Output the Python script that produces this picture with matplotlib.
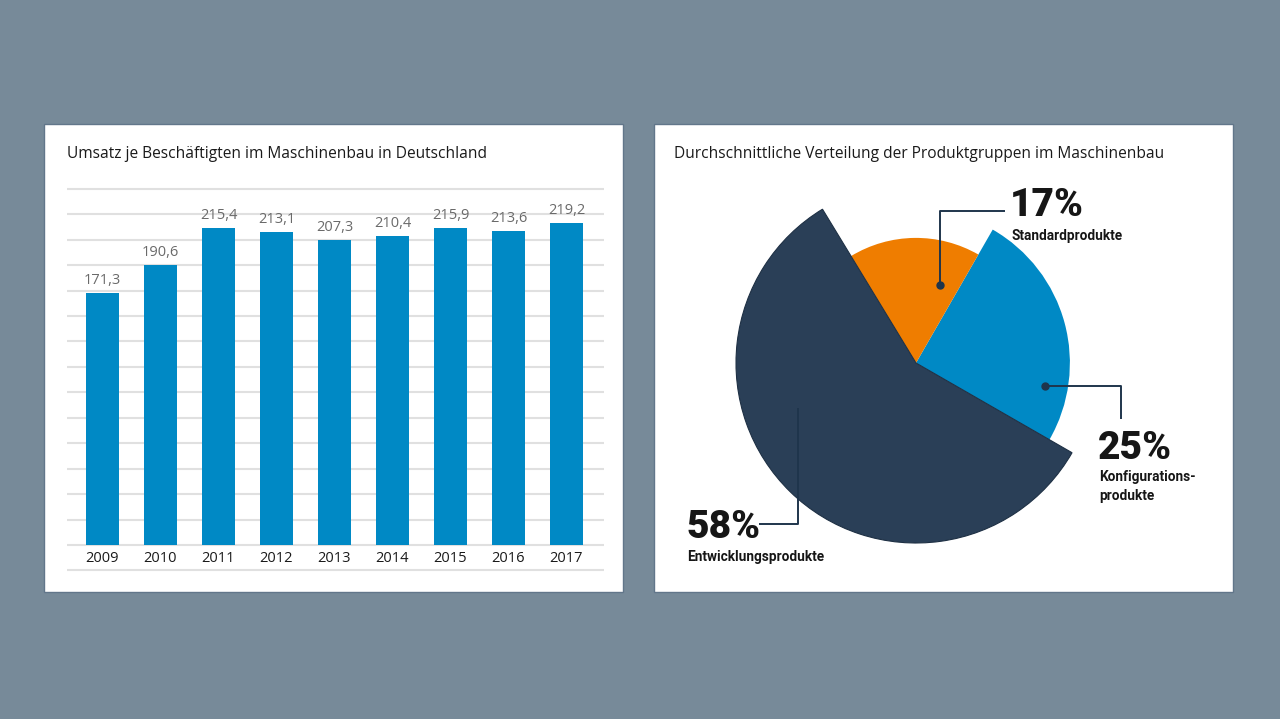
import numpy as np
import matplotlib
matplotlib.use("Agg")
import matplotlib.pyplot as plt
from matplotlib.patches import Rectangle

# Daten
jahre = ["2009", "2010", "2011", "2012", "2013", "2014", "2015", "2016", "2017"]
umsatz = [171.3, 190.6, 215.4, 213.1, 207.3, 210.4, 215.9, 213.6, 219.2]

gruppen = ["Konfigurations-\nprodukte", "Standardprodukte", "Entwicklungsprodukte"]
anteile = [25, 17, 58]

# Farben / Stil
BG = "#778a99"
BLAU = "#0089c5"
ORANGE = "#ef7d00"
DUNKEL = "#2a3f57"
LINIE = "#1f354c"
radien = [0.855, 0.695, 1.0]          # Radius je Segment (relativ)

W, H = 1280, 719
fig = plt.figure(figsize=(W / 100, H / 100), dpi=100, facecolor=BG)


def fx(px):
    return px / W


def fy(py):
    return 1 - py / H


# weisse Panels
for x0 in (44, 654):
    fig.patches.append(Rectangle((fx(x0), fy(592)), fx(579), 468 / H,
                                 transform=fig.transFigure, facecolor="white",
                                 edgecolor="#62768a", lw=1, zorder=-5))

plt.rcParams["font.family"] = ["Open Sans", "DejaVu Sans"]

fig.text(fx(67), fy(154), "Umsatz je Beschäftigten im Maschinenbau in Deutschland",
         fontsize=11.2, color="#1a1a1a", va="center", ha="left")
fig.text(fx(674), fy(154), "Durchschnittliche Verteilung der Produktgruppen im Maschinenbau",
         fontsize=11.2, color="#1a1a1a", va="center", ha="left")

# ---- Balkendiagramm ----
skala = 1.4705      # px je Einheit
basis = 545         # px der Nulllinie
ylo, yhi = -20, 245
ax = fig.add_axes([fx(67), fy(basis - skala * ylo), fx(604 - 67),
                   skala * (yhi - ylo) / H])
ax.set_xlim(-0.612, 8.647)
ax.set_ylim(ylo, yhi)
ax.axis("off")

step = 25.45 / skala
for k in range(-1, 15):
    ax.axhline(k * step, color="#e0e0e0", lw=1.5, zorder=0)

x = np.arange(len(jahre))
ax.bar(x, umsatz, width=0.57, color=BLAU, zorder=2)
for i, v in enumerate(umsatz):
    ax.annotate(f"{v:.1f}".replace(".", ","), (i, v), xytext=(0, 3.5),
                textcoords="offset points", ha="center", va="bottom",
                fontsize=10.5, color="#6a6a6a")
    ax.text(i, -13 / skala, jahre[i], ha="center", va="center",
            fontsize=10.5, color="#1a1a1a")

# ---- Tortendiagramm ----
cx, cy, r = 916, 363, 180
pax = fig.add_axes([fx(654), fy(592), fx(579), 468 / H])
wedges, _ = pax.pie(anteile, colors=[BLAU, ORANGE, DUNKEL], startangle=-29.9,
                    counterclock=True, radius=1.0)
for w, rr in zip(wedges, radien):
    w.set_radius(rr)
wedges[2].set_edgecolor("#1e3044")
wedges[2].set_linewidth(0.8)
pax.set_aspect("auto")
pax.set_xlim((654 - cx) / r, (1233 - cx) / r)
pax.set_ylim((cy - 592) / r, (cy - 124) / r)
pax.axis("off")


def d(px, py):
    return (px - cx) / r, (cy - py) / r


# Hinweislinien
for pts, dot in (([(940, 285), (940, 211), (1005, 211)], True),
                 ([(1045, 386), (1121, 386), (1121, 419)], True),
                 ([(798, 408), (798, 524), (759, 524)], False)):
    xs, ys = zip(*[d(*p) for p in pts])
    pax.plot(xs, ys, color=LINIE, lw=1.4, solid_capstyle="butt", clip_on=False)
    if dot:
        pax.plot(xs[0], ys[0], "o", color=LINIE, ms=5, clip_on=False)

fett = ["Roboto", "DejaVu Sans"]
labels = [(1098, 449, 470), (1010, 206, 236), (686, 528, 557)]
for (lx, ly, ny), a, g in zip(labels, anteile, gruppen):
    pax.text(*d(lx, ly), f"{a}%", family=fett, fontweight="black", fontsize=28,
             color="#161616", ha="left", va="center")
    pax.text(*d(lx + 1, ny), g, family=fett, fontweight="bold", fontsize=9.8,
             color="#161616", ha="left", va="top" if "\n" in g else "center",
             linespacing=1.45)

fig.savefig("out.png", dpi=100, facecolor=BG)
